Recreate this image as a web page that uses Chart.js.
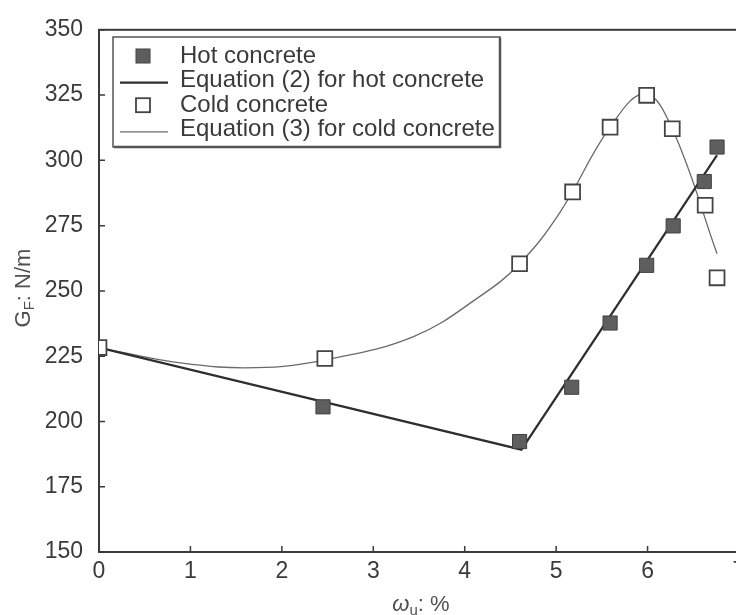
<!DOCTYPE html>
<html>
<head>
<meta charset="utf-8">
<title>Fracture energy vs moisture</title>
<script src="https://cdn.jsdelivr.net/npm/chart.js@4.4.1/dist/chart.umd.min.js"></script>
<style>
  html, body { margin: 0; padding: 0; background: #fff; overflow: hidden; }
  canvas { display: block; }
</style>
</head>
<body>
<canvas id="gfChart" width="760" height="615"></canvas>
<script>
// measured points, moisture content (%) vs fracture energy (N/m)
const hotX  = [2.45, 4.60, 5.17, 5.59, 5.99, 6.28, 6.62, 6.76];
const hotY  = [205.6, 192.3, 213.1, 237.7, 259.8, 274.9, 291.9, 305.1];
const coldX = [0, 2.47, 4.60, 5.18, 5.59, 5.99, 6.27, 6.63, 6.76];
const coldY = [228.3, 224.1, 260.4, 287.9, 312.7, 324.9, 312.1, 282.8, 255.0];

// fitted curves (eq. 2 bilinear, eq. 3 smooth)
const hotFitX  = [0, 4.62, 6.76];
const hotFitY  = [228.3, 189.2, 302.0];
const coldFitX = [0, 0.89, 1.72, 2.47, 3.44, 4.17, 4.60, 5.04, 5.59, 5.97, 6.27, 6.76];
const coldFitY = [228.3, 222.4, 220.6, 223.6, 232.5, 248.0, 260.4, 280.0, 312.7, 325.5, 312.1, 264.2];

const seriesNames = ['Hot concrete', 'Equation (2) for hot concrete', 'Cold concrete', 'Equation (3) for cold concrete'];

const toPts = (xs, ys) => xs.map((x, i) => ({ x: x, y: ys[i] }));

const ink = '#3a3a3a';
const fontFam = '"Liberation Sans", Arial, Helvetica, sans-serif';
Chart.defaults.font.family = fontFam;
Chart.defaults.color = ink;

// frame, inward ticks, legend box and axis titles
const paperPlugin = {
  id: 'paper',
  beforeDatasetsDraw(chart) {
    const { ctx, chartArea: a, scales } = chart;
    ctx.save();
    ctx.strokeStyle = ink;
    ctx.lineWidth = 2;
    ctx.strokeRect(a.left, a.top, a.right - a.left, a.bottom - a.top);
    ctx.lineWidth = 1.5;
    ctx.beginPath();
    scales.y.ticks.forEach(t => {
      const py = scales.y.getPixelForValue(t.value);
      ctx.moveTo(a.left, py); ctx.lineTo(a.left + 6, py);
    });
    scales.x.ticks.forEach(t => {
      const px = scales.x.getPixelForValue(t.value);
      ctx.moveTo(px, a.bottom); ctx.lineTo(px, a.bottom - 6);
    });
    ctx.stroke();
    ctx.restore();
  },
  afterDraw(chart) {
    const ctx = chart.ctx;
    const ds = chart.data.datasets;
    ctx.save();

    // legend
    const bx = 113, by = 37, bw = 387, bh = 110;
    ctx.fillStyle = '#fff';
    ctx.fillRect(bx, by, bw, bh);
    ctx.strokeStyle = '#555';
    ctx.lineWidth = 1.5;
    ctx.strokeRect(bx, by, bw, bh);
    ctx.lineWidth = 2.5;
    ctx.beginPath();
    ctx.moveTo(bx + 1, by + bh); ctx.lineTo(bx + bw, by + bh); ctx.lineTo(bx + bw, by + 1);
    ctx.stroke();

    ctx.font = '24px ' + fontFam;
    ctx.textBaseline = 'middle';
    ctx.textAlign = 'left';
    seriesNames.forEach((name, i) => {
      const cy = 56 + i * 24.6;
      const d = ds[i];
      if (d.showLine === false) {
        ctx.fillStyle = d.backgroundColor;
        ctx.strokeStyle = d.borderColor;
        ctx.lineWidth = d.borderWidth;
        ctx.fillRect(136, cy - 7, 14, 14);
        ctx.strokeRect(136, cy - 7, 14, 14);
      } else {
        ctx.strokeStyle = d.borderColor;
        ctx.lineWidth = d.borderWidth;
        ctx.beginPath();
        ctx.moveTo(120, cy + 2); ctx.lineTo(168, cy + 2);
        ctx.stroke();
      }
      ctx.fillStyle = ink;
      ctx.fillText(name, 180, cy);
    });

    // axis titles with subscripts
    ctx.fillStyle = '#505050';
    const big = '22px ' + fontFam, small = '15px ' + fontFam;

    ctx.save();
    ctx.translate(24, 288);
    ctx.rotate(-Math.PI / 2);
    ctx.font = big;
    const wG = ctx.measureText('G').width, wRest = ctx.measureText(': N/m').width;
    ctx.font = small;
    const wF = ctx.measureText('F').width;
    let x0 = -(wG + wF + wRest) / 2;
    ctx.font = big; ctx.fillText('G', x0, 0);
    ctx.font = small; ctx.fillText('F', x0 + wG, 6);
    ctx.font = big; ctx.fillText(': N/m', x0 + wG + wF, 0);
    ctx.restore();

    ctx.font = 'italic ' + big;
    const wW = ctx.measureText('ω').width;
    ctx.font = small;
    const wU = ctx.measureText('u').width;
    ctx.font = big;
    const wP = ctx.measureText(': %').width;
    x0 = 421 - (wW + wU + wP) / 2;
    ctx.font = 'italic ' + big; ctx.fillText('ω', x0, 605);
    ctx.font = small; ctx.fillText('u', x0 + wW, 611);
    ctx.font = big; ctx.fillText(': %', x0 + wW + wU, 605);

    ctx.restore();
  }
};

const gfChart = new Chart(document.getElementById('gfChart'), {
  type: 'scatter',
  data: {
    datasets: [
      {
        label: seriesNames[0],
        data: toPts(hotX, hotY),
        showLine: false,
        pointStyle: 'rect',
        pointRadius: 10,
        backgroundColor: '#5e5e5e',
        borderColor: '#404040',
        borderWidth: 1,
        order: 0
      },
      {
        label: seriesNames[1],
        data: toPts(hotFitX, hotFitY),
        showLine: true,
        pointRadius: 0,
        borderColor: '#2e2e2e',
        backgroundColor: '#2e2e2e',
        borderWidth: 2.2,
        tension: 0,
        order: 1
      },
      {
        label: seriesNames[2],
        data: toPts(coldX, coldY),
        showLine: false,
        pointStyle: 'rect',
        pointRadius: 10.5,
        backgroundColor: '#ffffff',
        borderColor: '#444444',
        borderWidth: 1.8,
        order: 0
      },
      {
        label: seriesNames[3],
        data: toPts(coldFitX, coldFitY),
        showLine: true,
        pointRadius: 0,
        borderColor: '#6a6a6a',
        backgroundColor: '#6a6a6a',
        borderWidth: 1.3,
        tension: 0.4,
        order: 1
      }
    ]
  },
  options: {
    responsive: false,
    animation: false,
    events: [],
    layout: { padding: { left: 0, right: 21, top: 23, bottom: 0 } },
    plugins: {
      legend: { display: false },
      tooltip: { enabled: false }
    },
    scales: {
      x: {
        type: 'linear',
        min: 0,
        max: 7,
        ticks: { stepSize: 1, padding: 6, font: { size: 23 }, color: ink, maxRotation: 0 },
        grid: { display: false, drawTicks: false },
        border: { display: false },
        afterFit: s => { s.height = 63; }
      },
      y: {
        min: 150,
        max: 350,
        ticks: { stepSize: 25, padding: 16, font: { size: 23 }, color: ink },
        grid: { display: false, drawTicks: false },
        border: { display: false },
        afterFit: s => { s.width = 99; }
      }
    }
  },
  plugins: [paperPlugin]
});
</script>
</body>
</html>
